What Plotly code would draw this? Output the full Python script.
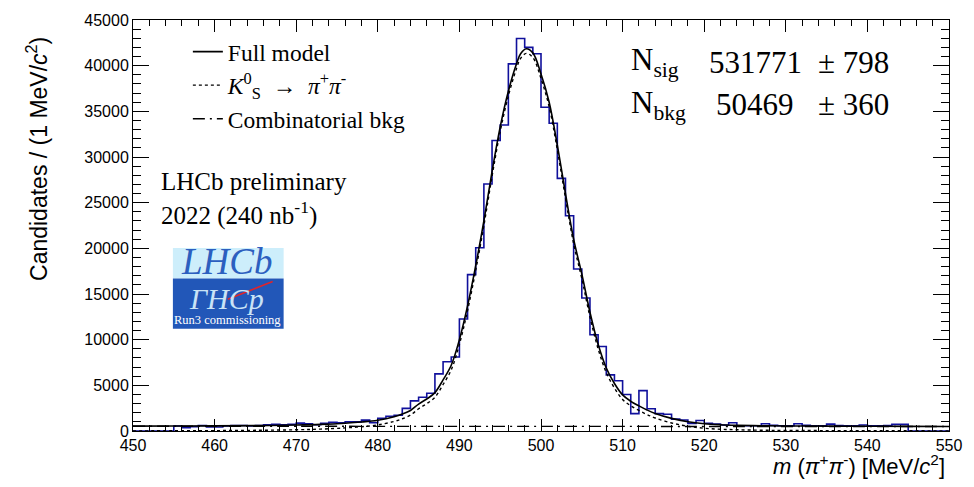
import plotly.graph_objects as go

# ---------------- data ----------------
bin_low = list(range(450, 551))  # bin edges 450..550 (1 MeV bins)
counts = [
    0, 0, 0, 0, 0, 540, 360, 470, 610, 430,            # 450-459
    430, 540, 610, 610, 540, 610, 680, 720, 680, 720,  # 460-469
    860, 790, 680, 830, 940, 900, 1000, 1000, 1190, 900,  # 470-479
    1400, 1620, 1730, 2480, 3300, 3700, 4130, 6260, 7590, 8100,  # 480-489
    12270, 17120, 20070, 27050, 31800, 33500, 40200, 42980, 42000, 41300,  # 490-499
    35450, 33700, 27660, 23560, 17730, 14570, 10540, 9250, 6150, 5500,  # 500-509
    3990, 1900, 4420, 2440, 1900, 1830, 1300, 1200, 830, 1150,  # 510-519
    850, 760, 650, 900, 580, 580, 580, 790, 620, 580,  # 520-529
    580, 790, 620, 580, 580, 750, 600, 560, 580, 650,  # 530-539
    580, 560, 600, 720, 720, 0, 0, 0, 0, 0,            # 540-549
]

curve_x = [450, 455, 460, 465, 470, 473, 476, 478, 480, 482, 483, 484, 485, 486,
           487, 488, 489, 490, 491, 492, 493, 494, 495, 496, 497, 497.5, 498.2,
           499, 500, 501, 502, 503, 504, 505, 506, 507, 508, 509, 510, 511, 512,
           513, 514, 516, 518, 520, 522, 524, 527, 530, 535, 540, 545, 550]
full_model = [535, 545, 560, 590, 650, 720, 850, 980, 1180, 1560, 1850, 2250, 2950, 3500,
              4200, 5600, 7200, 10000, 13700, 18100, 23000, 28400, 33300, 37200, 40200, 41300, 41850,
              41400, 39100, 36000, 31300, 26000, 21000, 17200, 13000, 9500, 6900, 5200, 3950, 3250, 2750,
              2300, 1920, 1380, 1020, 800, 690, 630, 580, 555, 535, 520, 510, 500]
signal = [15, 25, 43, 75, 136, 207, 338, 468, 669, 1050, 1340, 1740, 2440, 2990,
          3690, 5090, 6690, 9490, 13190, 17590, 22490, 27890, 32800, 36700, 39700, 40800, 41345,
          40895, 38595, 35500, 30800, 25500, 20500, 16700, 12500, 9000, 6400, 4700, 3450, 2750, 2250,
          1800, 1420, 880, 520, 300, 194, 135, 86, 62, 44, 30, 22, 15]
bkg_x = [450, 500, 550]
bkg = [520, 505, 490]

legend_names = ["Full model",
                "<i>K</i><sup>0</sup><sub>S</sub>  \u2192  <i>\u03c0</i><sup>+</sup><i>\u03c0</i><sup>-</sup>",
                "Combinatorial bkg"]
yields = [("sig", "531771", "798"), ("bkg", "50469", "360")]

SANS = "Liberation Sans, Arial, Helvetica, sans-serif"
SERIF = "Liberation Serif, Times New Roman, serif"

# plot area in pixels
L, R, T, B = 133, 951, 13, 431
W, H = 974, 487


def px(xp):
    return (xp - L) / (R - L)


def py(yp):
    return (B - yp) / (B - T)


fig = go.Figure()

fig.add_trace(go.Scatter(x=bin_low, y=counts + [counts[-1]], mode="lines",
                         line=dict(color="#10109c", width=1.6, shape="hv"),
                         showlegend=False, hoverinfo="skip"))
fig.add_trace(go.Scatter(x=curve_x, y=full_model, mode="lines", name=legend_names[0],
                         line=dict(color="black", width=1.6, shape="spline")))
fig.add_trace(go.Scatter(x=curve_x, y=signal, mode="lines", name=legend_names[1],
                         line=dict(color="black", width=1.4, dash="dot", shape="spline")))
fig.add_trace(go.Scatter(x=bkg_x, y=bkg, mode="lines", name=legend_names[2],
                         line=dict(color="black", width=1.4, dash="12px,5px,2px,5px", shape="spline")))

axis_common = dict(showgrid=False, zeroline=False, showline=True, linecolor="black", linewidth=1,
                   ticks="inside", tickcolor="black", tickwidth=1, mirror="allticks",
                   tickfont=dict(family=SANS, size=16, color="black"))

fig.update_xaxes(range=[450, 550], dtick=10, tick0=450, ticklen=12,
                 minor=dict(dtick=2, ticklen=6, ticks="inside", tickcolor="black"),
                 **axis_common)
fig.update_yaxes(range=[0, 45000], dtick=5000, tick0=0, ticklen=16, tickformat="d",
                 minor=dict(dtick=1000, ticklen=8, ticks="inside", tickcolor="black"),
                 **axis_common)

ann = []
# axis titles
ann.append(dict(x=px(949), y=py(466), xref="paper", yref="paper", xanchor="right", yanchor="middle",
                text="<i>m</i> (<i>\u03c0</i><sup>+</sup><i>\u03c0</i><sup>-</sup>) [MeV/<i>c</i><sup>2</sup>]",
                showarrow=False, font=dict(family=SANS, size=22, color="black")))
ann.append(dict(x=px(37), y=py(28), xref="paper", yref="paper", xanchor="center", yanchor="top",
                text="Candidates / (1 MeV/<i>c</i><sup>2</sup>)", textangle=-90,
                showarrow=False, font=dict(family=SANS, size=23, color="black")))
# yields
rows_y = [56, 99]
for (lab, val, err), yy in zip(yields, rows_y):
    ann.append(dict(x=px(630), y=py(yy), xref="paper", yref="paper", xanchor="left", yanchor="middle",
                    text="N<sub>%s</sub>" % lab, showarrow=False,
                    font=dict(family=SERIF, size=31, color="black")))
    ann.append(dict(x=px(806 if lab == "sig" else 798), y=py(yy), xref="paper", yref="paper",
                    xanchor="right", yanchor="middle", text=val, showarrow=False,
                    font=dict(family=SERIF, size=31, color="black")))
    ann.append(dict(x=px(818), y=py(yy), xref="paper", yref="paper", xanchor="left", yanchor="middle",
                    text="\u00b1 " + err, showarrow=False,
                    font=dict(family=SERIF, size=31, color="black")))
# LHCb text
ann.append(dict(x=px(159), y=py(177), xref="paper", yref="paper", xanchor="left", yanchor="middle",
                text="LHCb preliminary", showarrow=False, font=dict(family=SERIF, size=25, color="black")))
ann.append(dict(x=px(159), y=py(210), xref="paper", yref="paper", xanchor="left", yanchor="middle",
                text="2022 (240 nb<sup>-1</sup>)", showarrow=False, font=dict(family=SERIF, size=25, color="black")))
# logo text
ann.append(dict(x=px(227), y=py(281), xref="paper", yref="paper", xanchor="center", yanchor="bottom",
                text="<i>LHCb</i>", showarrow=False, font=dict(family=SERIF, size=37, color="#2c5fbf")))
ann.append(dict(x=px(227), y=py(277), xref="paper", yref="paper", xanchor="center", yanchor="top",
                text="<i>\u0393HCp</i>", showarrow=False, font=dict(family=SERIF, size=30, color="#c9e3f6")))
ann.append(dict(x=px(228), y=py(318), xref="paper", yref="paper", xanchor="center", yanchor="middle",
                text="Run3 commissioning", showarrow=False, font=dict(family=SERIF, size=12.5, color="white")))

shapes = [
    dict(type="rect", xref="paper", yref="paper", x0=px(173), x1=px(284), y0=py(276), y1=py(245),
         fillcolor="#cdeefb", line=dict(width=0), layer="above"),
    dict(type="rect", xref="paper", yref="paper", x0=px(173), x1=px(284), y0=py(327), y1=py(276),
         fillcolor="#2257b8", line=dict(width=0), layer="above"),
]
fig.update_layout(shapes=shapes)
fig.add_shape(type="line", xref="paper", yref="paper", x0=px(228), y0=py(297), x1=px(273), y1=py(279),
              line=dict(color="#e0242a", width=1.5), layer="above")

fig.update_layout(
    width=W, height=H, autosize=False,
    margin=dict(l=L, r=W - R, t=T, b=H - B, pad=0),
    paper_bgcolor="white", plot_bgcolor="white",
    annotations=ann,
    legend=dict(x=px(188), y=py(23), xref="paper", yref="paper", xanchor="left", yanchor="top",
                bgcolor="rgba(0,0,0,0)", borderwidth=0, tracegroupgap=0,
                font=dict(family=SERIF, size=23.5, color="black")),
    showlegend=True,
)

fig.write_html("out.html")
